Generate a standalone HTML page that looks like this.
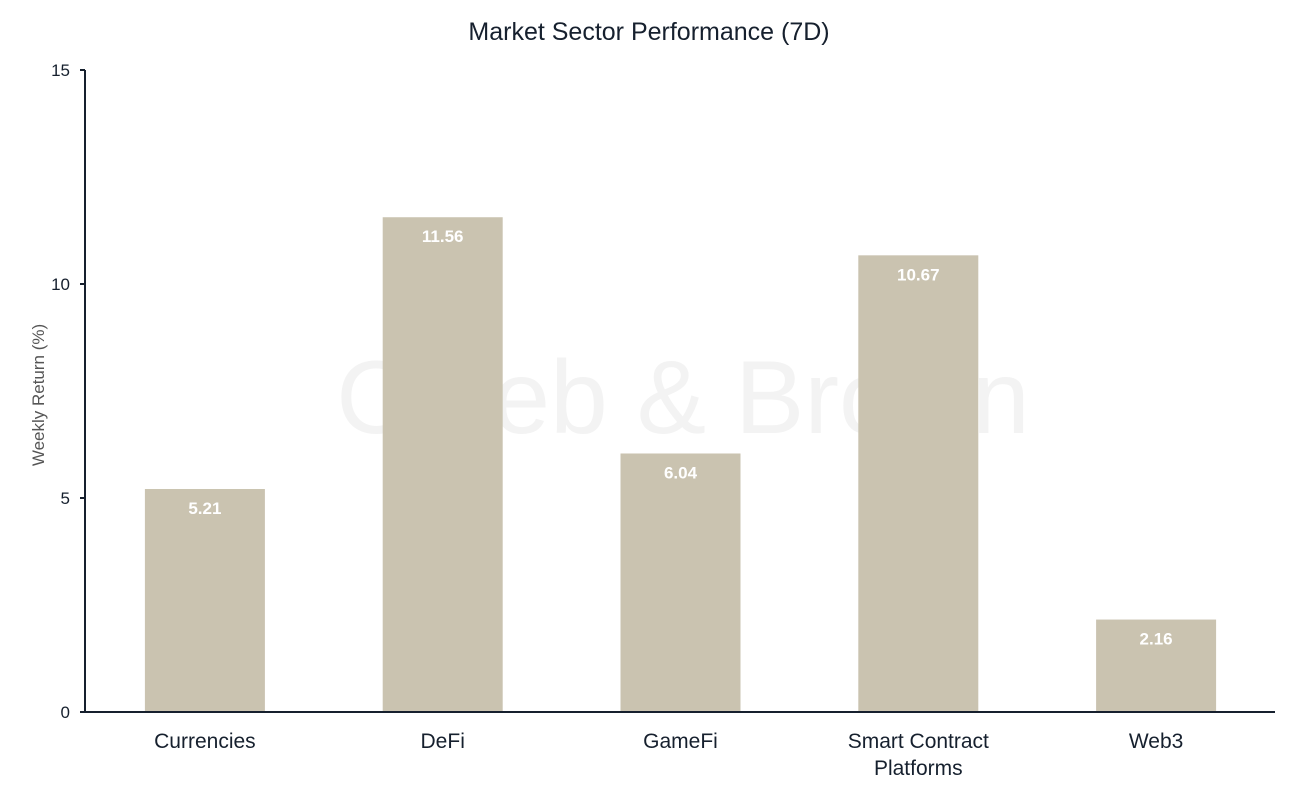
<!DOCTYPE html>
<html><head><meta charset="utf-8"><style>
body{margin:0;background:#fff;}
svg{display:block;font-family:"Liberation Sans",sans-serif;}
</style></head><body>
<svg id="chart" width="1298" height="792">
<text x="649" y="40" text-anchor="middle" font-size="25" fill="#16202e">Market Sector Performance (7D)</text>
<text x="683" y="433" text-anchor="middle" font-size="104" fill="#f3f3f3">Caleb &amp; Brown</text>
<g id="bars"></g>
<g id="axes"></g>
<text transform="translate(44,395) rotate(-90)" text-anchor="middle" font-size="17" fill="#555">Weekly  Return (%)</text>
</svg>
<script>
const categories=["Currencies","DeFi","GameFi","Smart Contract|Platforms","Web3"];
const values=[5.21,11.56,6.04,10.67,2.16];
const labels=["5.21","11.56","6.04","10.67","2.16"];
const yTicks=[0,5,10,15];
const NS="http://www.w3.org/2000/svg";
const x0=86,x1=1275,y0=712,yTop=70,ymax=15;
const band=(x1-x0)/categories.length,bw=120;
const y=v=>y0-(v/ymax)*(y0-yTop);
const xc=i=>x0+band*(i+0.5);
function mk(t,a,p){const e=document.createElementNS(NS,t);for(const k in a)e.setAttribute(k,a[k]);p.appendChild(e);return e;}
const bars=document.getElementById('bars'),axes=document.getElementById('axes');
values.forEach((v,i)=>{
 const r=mk('rect',{x:xc(i)-bw/2,y:y(v),width:bw,height:y0-y(v),fill:'#cac3b0'},bars);
 
 
 const t=mk('text',{x:xc(i),y:y(v)+25,'text-anchor':'middle','font-size':17,'font-weight':'bold',fill:'#fff'},bars);
 t.textContent=labels[i];
 
 
 const parts=categories[i].split('|');
 parts.forEach((p,j)=>{
  const c=mk('text',{x:xc(i),y:748+j*27,'text-anchor':'middle','font-size':21,fill:'#16202e'},axes);
  c.textContent=p;
  
  
 });
});
const ya=mk('line',{x1:85,y1:yTop,x2:85,y2:y0+1,stroke:'#16202e','stroke-width':2},axes);


const xa=mk('line',{x1:84,y1:y0,x2:x1,y2:y0,stroke:'#16202e','stroke-width':2},axes);


yTicks.forEach(v=>{
 mk('line',{x1:80,y1:y(v),x2:85,y2:y(v),stroke:'#16202e','stroke-width':2},axes);
 const t=mk('text',{x:70,y:y(v)+6,'text-anchor':'end','font-size':17,fill:'#16202e'},axes);
 t.textContent=v;
 
 
});
</script>
</body></html>
